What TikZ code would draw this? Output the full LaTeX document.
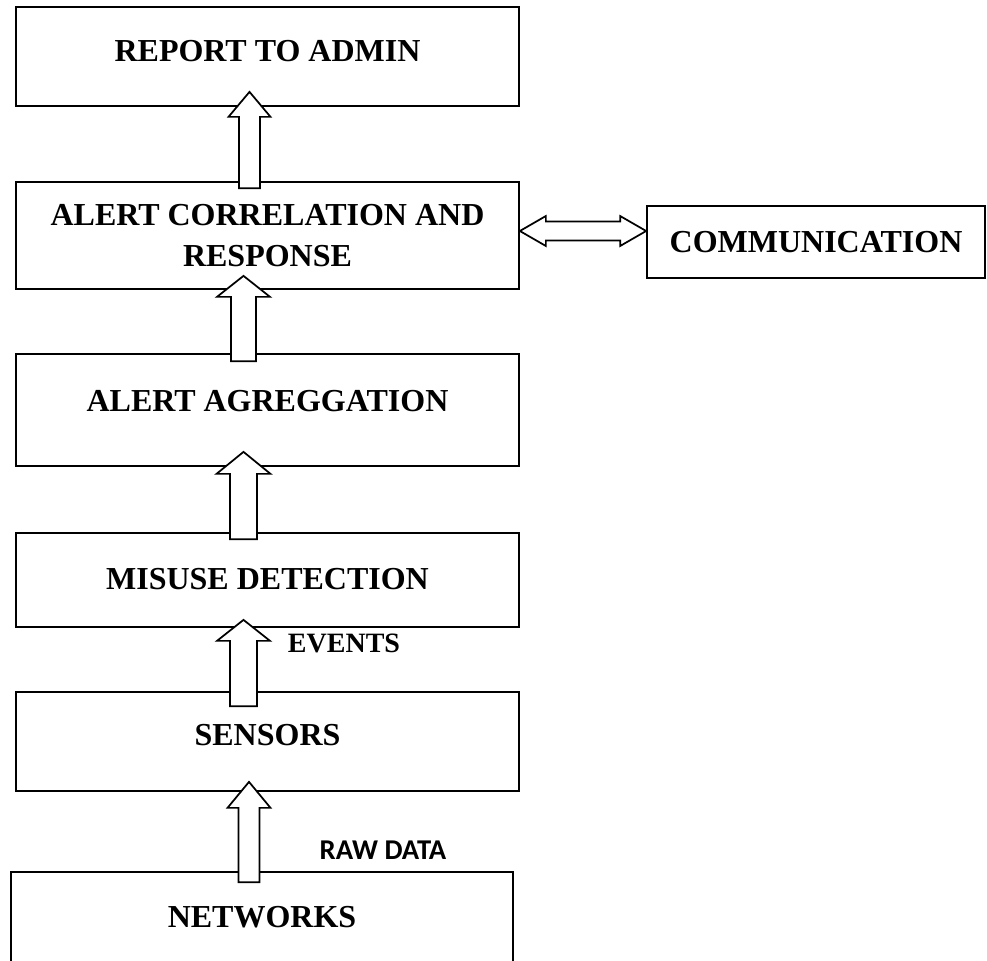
\documentclass[tikz,border=0pt]{standalone}
\usepackage{fontspec}
\setmainfont{Liberation Serif}
\newfontfamily\carlito{Carlito}
\usepackage{tikz}
\usetikzlibrary{shapes,arrows}
\usetikzlibrary{calc}
\usetikzlibrary{positioning}

% hollow block arrow pointing up: tail, tip, shaft half width, head half width, head length
\newcommand{\fatup}[5]{%
	\draw[fat_arrow] ($(#1)+(-#3,0)$) -- ($(#2)+(-#3,#5)$) -- ($(#2)+(-#4,#5)$) -- (#2)
	-- ($(#2)+(#4,#5)$) -- ($(#2)+(#3,#5)$) -- ($(#1)+(#3,0)$) -- cycle;}

\begin{document}
\begin{tikzpicture}[x=0.75pt, y=-0.75pt,
	box_node/.style={rectangle,draw,line width=1.3pt,minimum width=377.25pt,align=center,font=\bfseries\fontsize{24}{31}\selectfont,text depth=8pt},
	fat_arrow/.style={draw,fill=white,line width=1.3pt,line join=miter}]
	
	\useasboundingbox (0,0) rectangle (987,960);
	\clip (0,0) rectangle (987,960);
	
	\node[box_node, minimum height=74.25pt] (1) at (267.5, 56.5) {REPORT TO ADMIN};
	\node[box_node, minimum height=80.25pt, text depth=0pt] (2) at (267.5, 235.5) {ALERT CORRELATION AND\\RESPONSE};
	\node[box_node, minimum height=84pt, text depth=14pt] (3) at (267.5, 410) {ALERT AGREGGATION};
	\node[box_node, minimum height=70.5pt, text depth=2pt] (4) at (267.5, 580) {MISUSE DETECTION};
	\node[box_node, minimum height=74.25pt, text depth=10pt] (5) at (267.5, 741.5) {SENSORS};
	\node[box_node, minimum height=72pt, minimum width=376.5pt, text depth=4pt] (6) at (262, 920) {NETWORKS};
	\node[box_node, minimum height=54pt, minimum width=253.5pt, text depth=0pt] (7) at (816, 242) {COMMUNICATION};
	
	\node[font=\bfseries\fontsize{21}{25}\selectfont] (ev) at (344, 643) {EVENTS};
	\node[font=\carlito\bfseries\fontsize{21.5}{25}\selectfont] (raw) at (383, 850) {RAW DATA};
	
	% up arrows
	\coordinate (t1) at ($(2.north)+(-18,7)$);
	\coordinate (h1) at ($(1.south)+(-18,-15)$);
	\coordinate (t2) at ($(3.north)+(-24,8)$);
	\coordinate (h2) at ($(2.south)+(-24,-14)$);
	\coordinate (t3) at ($(4.north)+(-24,7)$);
	\coordinate (h3) at ($(3.south)+(-24,-15)$);
	\coordinate (t4) at ($(5.north)+(-24,15)$);
	\coordinate (h4) at ($(4.south)+(-24,-8)$);
	\coordinate (t5) at ($(6.north)+(-13,11)$);
	\coordinate (h5) at ($(5.south)+(-18.5,-10)$);
	
	\fatup{t1}{h1}{10.5}{21}{25}
	\fatup{t2}{h2}{12.5}{26.5}{21}
	\fatup{t3}{h3}{13.5}{27}{22}
	\fatup{t4}{h4}{13.5}{26.5}{21}
	\fatup{t5}{h5}{10.5}{21.5}{26}
	
	% two way arrow
	\coordinate (l) at ($(2.east)+(0,-4.5)$);
	\coordinate (r) at (7.west |- l);
	\draw[fat_arrow] (l) -- ($(l)+(26,-15)$) -- ($(l)+(26,-9.5)$) -- ($(r)+(-26,-9.5)$) -- ($(r)+(-26,-15)$) -- (r)
	-- ($(r)+(-26,15)$) -- ($(r)+(-26,9.5)$) -- ($(l)+(26,9.5)$) -- ($(l)+(26,15)$) -- cycle;
\end{tikzpicture}
\end{document}
